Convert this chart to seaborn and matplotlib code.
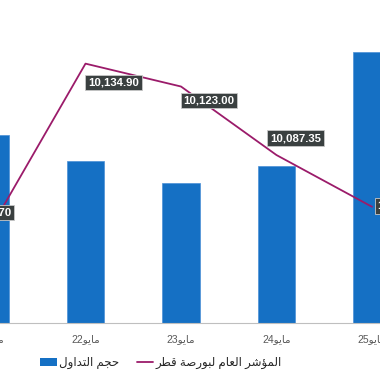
import re
import numpy as np
import matplotlib
matplotlib.use('Agg')
import matplotlib.pyplot as plt
from matplotlib.patches import Patch
from matplotlib.lines import Line2D
import seaborn as sns

# data
days = ['مايو21', 'مايو22', 'مايو23', 'مايو24', 'مايو25']
volume = [204, 176, 152, 170, 294]
index_vals = [10048.70, 10134.90, 10123.00, 10087.35, 10060.45]
bar_label = 'حجم التداول'
line_label = 'المؤشر العام لبورصة قطر'

BAR_COLOR = '#1570C4'
LINE_COLOR = '#9B1B6A'

# --- minimal arabic shaping (matplotlib has no complex text layout) ---
# isolated, final, initial, medial
FORMS = {
    'ا': ('\uFE8D', '\uFE8E', None, None),
    'ب': ('\uFE8F', '\uFE90', '\uFE91', '\uFE92'),
    'ة': ('\uFE93', '\uFE94', None, None),
    'ت': ('\uFE95', '\uFE96', '\uFE97', '\uFE98'),
    'ج': ('\uFE9D', '\uFE9E', '\uFE9F', '\uFEA0'),
    'ح': ('\uFEA1', '\uFEA2', '\uFEA3', '\uFEA4'),
    'د': ('\uFEA9', '\uFEAA', None, None),
    'ر': ('\uFEAD', '\uFEAE', None, None),
    'ش': ('\uFEB5', '\uFEB6', '\uFEB7', '\uFEB8'),
    'ص': ('\uFEB9', '\uFEBA', '\uFEBB', '\uFEBC'),
    'ط': ('\uFEC1', '\uFEC2', '\uFEC3', '\uFEC4'),
    'ع': ('\uFEC9', '\uFECA', '\uFECB', '\uFECC'),
    'ق': ('\uFED5', '\uFED6', '\uFED7', '\uFED8'),
    'ل': ('\uFEDD', '\uFEDE', '\uFEDF', '\uFEE0'),
    'م': ('\uFEE1', '\uFEE2', '\uFEE3', '\uFEE4'),
    'و': ('\uFEED', '\uFEEE', None, None),
    'ؤ': ('\uFE85', '\uFE86', None, None),
    'ي': ('\uFEF1', '\uFEF2', '\uFEF3', '\uFEF4'),
}


def dual(c):
    return c in FORMS and FORMS[c][2] is not None


def shape(word):
    out = []
    for i, c in enumerate(word):
        if c not in FORMS:
            out.append(c)
            continue
        prev_j = i > 0 and dual(word[i - 1])
        next_j = dual(c) and i + 1 < len(word) and word[i + 1] in FORMS
        iso, fin, ini, med = FORMS[c]
        if prev_j and next_j:
            out.append(med)
        elif prev_j:
            out.append(fin)
        elif next_j:
            out.append(ini)
        else:
            out.append(iso)
    return ''.join(out)


def rtl(text):
    runs = re.findall(r'\d+|\D+', text)
    return ''.join(r if r.isdigit() else shape(r)[::-1] for r in runs[::-1])


sns.set_style('white')
plt.rcParams['font.family'] = ['Liberation Sans', 'DejaVu Sans']

W, H = 380, 372
fig = plt.figure(figsize=(W / 100, H / 100), dpi=100)
# plot area is wider than the picture (first and last bars are cut off)
ax = fig.add_axes([-57.75 / W, 49 / H, 477.5 / W, 323 / H])

sns.barplot(x=days, y=volume, color=BAR_COLOR, saturation=1, width=0.39,
            edgecolor='#4A8FD6', linewidth=0.5, ax=ax)
ax.set_xlim(-0.5, len(days) - 0.5)
ax.set_ylim(0, 350)
ax.set_yticks([])
ax.set_xlabel('')
ax.set_ylabel('')
for s in ['top', 'left', 'right']:
    ax.spines[s].set_visible(False)
ax.spines['bottom'].set_color('#BFBFBF')
ax.set_xticks(range(len(days)))
ax.set_xticklabels([rtl(d) for d in days], fontsize=7.5, color='#595959')
ax.tick_params(axis='x', which='major', length=0, pad=8)
ax.set_xticks(np.arange(len(days) + 1) - 0.5, minor=True)
ax.tick_params(axis='x', which='minor', length=3, color='#BFBFBF', width=1)

ax2 = ax.twinx()
sns.lineplot(x=np.arange(len(days)), y=index_vals, color=LINE_COLOR,
             linewidth=1.3, ax=ax2)
ax2.set_ylim(10000, 10168)
ax2.set_yticks([])
for s in ax2.spines.values():
    s.set_visible(False)

# label offsets in pixels (screen dx, dy with y down)
offsets = [(-4, -17), (28, 19), (28, 14), (19, -17), (31, -1)]
for i, (v, (dx, dy)) in enumerate(zip(index_vals, offsets)):
    ax2.annotate(f'{v:,.2f}', (i, v), xytext=(dx, -dy), textcoords='offset pixels',
                 ha='center', va='center', color='white', fontweight='bold',
                 fontsize=8.2,
                 bbox=dict(boxstyle='square,pad=0.25', fc='#3A4040',
                           ec='#C8C8C8', lw=0.6))

handles = [Patch(facecolor=BAR_COLOR, edgecolor='none'),
           Line2D([0], [0], color=LINE_COLOR, lw=1.3)]
fig.legend(handles, [rtl(bar_label), rtl(line_label)], ncol=2, loc='center',
           bbox_to_anchor=(161 / W, 1 - 363 / H), frameon=False, fontsize=8.5,
           handlelength=1.4, handleheight=0.7, handletextpad=0.2,
           columnspacing=1.5)

fig.savefig('out.png', dpi=100)
